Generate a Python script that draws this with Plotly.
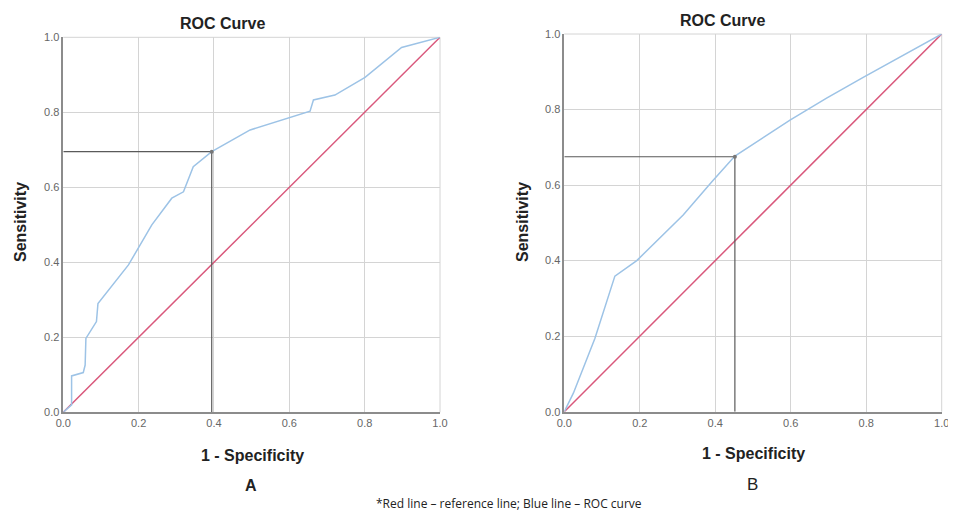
import plotly.graph_objects as go

# ---- data ----
panel_labels = ["A", "B"]
fpr_a = [0.0, 0.022, 0.022, 0.053, 0.058, 0.060, 0.088, 0.092, 0.173, 0.199, 0.235, 0.288, 0.319,
         0.345, 0.394, 0.496, 0.593, 0.655, 0.664, 0.721, 0.801, 0.898, 1.0]
tpr_a = [0.0, 0.02, 0.097, 0.106, 0.126, 0.197, 0.242, 0.29, 0.393, 0.437, 0.5, 0.571, 0.588,
         0.655, 0.695, 0.753, 0.784, 0.803, 0.833, 0.846, 0.893, 0.973, 1.0]
cut_a = (0.394, 0.695)

fpr_b = [0.0, 0.024, 0.081, 0.134, 0.192, 0.315, 0.391, 0.452, 0.598, 0.695, 0.792, 1.0]
tpr_b = [0.0, 0.049, 0.194, 0.359, 0.40, 0.521, 0.609, 0.677, 0.772, 0.83, 0.885, 1.0]
cut_b = (0.452, 0.675)

ref_x = [0.0, 1.0]
ref_y = [0.0, 1.0]
tick_vals = [0.0, 0.2, 0.4, 0.6, 0.8, 1.0]
tick_text = ["0.0", "0.2", "0.4", "0.6", "0.8", "1.0"]

BLUE = "#9dc3e6"
RED = "#d9587c"
CUT = "#5a5a5a"
GRID = "#d4d4d4"
AXIS = "#8c8c8c"
FONT = "Liberation Sans, Arial, sans-serif"

OX, OY = 8, 8  # page body offset of the figure
W, H = 956 - OX, 523 - 2 * OY - 4


def px_x(x):
    return (x - OX) / W


def px_y(y):
    return 1 - (y - OY) / H


fig = go.Figure()

panels = [
    ("x", "y", fpr_a, tpr_a, cut_a),
    ("x2", "y2", fpr_b, tpr_b, cut_b),
]
for xa, ya, fx, fy, cut in panels:
    fig.add_trace(go.Scatter(x=ref_x, y=ref_y, mode="lines", line=dict(color=RED, width=1.5),
                             xaxis=xa, yaxis=ya, showlegend=False, hoverinfo="skip"))
    fig.add_trace(go.Scatter(x=fx, y=fy, mode="lines", line=dict(color=BLUE, width=1.5),
                             xaxis=xa, yaxis=ya, showlegend=False))
    fig.add_trace(go.Scatter(x=[0.0, cut[0], cut[0]], y=[cut[1], cut[1], 0.0], mode="lines",
                             line=dict(color=CUT, width=1.2), xaxis=xa, yaxis=ya,
                             showlegend=False, hoverinfo="skip"))
    fig.add_trace(go.Scatter(x=[cut[0]], y=[cut[1]], mode="markers",
                             marker=dict(color="#777777", size=4), xaxis=xa, yaxis=ya,
                             showlegend=False))

axis_common = dict(range=[0, 1], tickvals=tick_vals, ticktext=tick_text, showgrid=True,
                   gridcolor=GRID, gridwidth=1, zeroline=False, showline=True,
                   linecolor=AXIS, linewidth=1.5, ticks="", automargin=False,
                   ticklabeloverflow="allow",
                   tickfont=dict(family=FONT, size=11, color="#666666"), fixedrange=True)

fig.update_layout(
    template="none",
    width=W, height=H,
    margin=dict(l=0, r=0, t=0, b=0, pad=0),
    paper_bgcolor="white", plot_bgcolor="white",
    xaxis=dict(domain=[px_x(63.3), px_x(440.0)], anchor="y", **axis_common),
    yaxis=dict(domain=[px_y(412.3), px_y(37.3)], anchor="x", **axis_common),
    xaxis2=dict(domain=[px_x(564.3), px_x(941.7)], anchor="y2", **axis_common),
    yaxis2=dict(domain=[px_y(411.7), px_y(34.0)], anchor="x2", **axis_common),
)

# borders at top / right (grid-like)
for xa, ya in [("x", "y"), ("x2", "y2")]:
    fig.add_shape(type="line", xref=xa + " domain", yref=ya + " domain", x0=0, x1=1, y0=1, y1=1,
                  line=dict(color=GRID, width=1), layer="below")
    fig.add_shape(type="line", xref=xa + " domain", yref=ya + " domain", x0=1, x1=1, y0=0, y1=1,
                  line=dict(color=GRID, width=1), layer="below")


def ann(text, x, y, size, bold=True, angle=0, color="#222222", family=FONT):
    t = f"<b>{text}</b>" if bold else text
    fig.add_annotation(text=t, x=px_x(x), y=px_y(y), xref="paper", yref="paper",
                       showarrow=False, textangle=angle, xanchor="center", yanchor="middle",
                       font=dict(family=family, size=size, color=color))


ann("ROC Curve", 222, 24, 16)
ann("ROC Curve", 722, 21, 16)
ann("Sensitivity", 20, 222, 16, angle=-90)
ann("Sensitivity", 522, 222, 16, angle=-90)
ann("1 - Specificity", 252, 455, 16)
ann("1 - Specificity", 753, 453, 16)
ann(panel_labels[0], 251, 485, 16)
ann(panel_labels[1], 752, 484, 17, bold=False)
ann("*Red line \u2013 reference line; Blue line \u2013 ROC curve", 509, 503, 12, bold=False,
    family="Open Sans, sans-serif")

fig.write_html("out.html")
